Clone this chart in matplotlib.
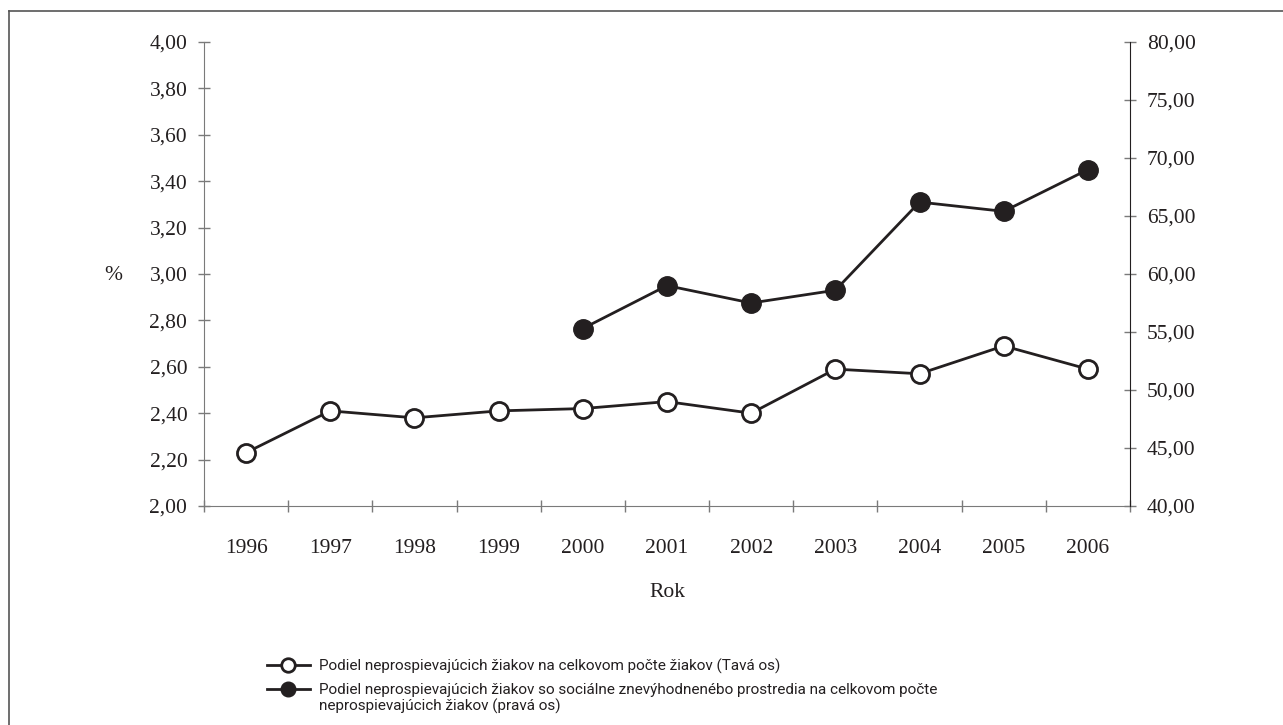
import numpy as np
import matplotlib
matplotlib.use("Agg")
import matplotlib.pyplot as plt
from matplotlib.ticker import FuncFormatter, FixedLocator
from matplotlib.lines import Line2D

# -- Data
years = ["1996", "1997", "1998", "1999", "2000", "2001",
         "2002", "2003", "2004", "2005", "2006"]
share_all = [2.23, 2.41, 2.38, 2.41, 2.42, 2.45, 2.40, 2.59, 2.57, 2.69, 2.59]
years_disadv = ["2000", "2001", "2002", "2003", "2004", "2005", "2006"]
share_disadv = [55.3, 59.0, 57.5, 58.6, 66.2, 65.4, 69.0]

label_all = "Podiel neprospievajúcich žiakov na celkovom počte žiakov (Tavá os)"
label_disadv = "Podiel neprospievajúcich žiakov so sociálne znevýhodnenébo prostredia na celkovom počte"
label_disadv_cont = "neprospievajúcich žiakov (pravá os)"

serif = ["Liberation Serif", "DejaVu Serif"]
sans = ["Roboto", "DejaVu Sans"]
ink = "#231f20"
grey = "#7a7a7a"


def comma(v, pos):
    return ("%.2f" % v).replace(".", ",")


fig = plt.figure(figsize=(12.83, 7.25), dpi=100)
ax = fig.add_axes([204 / 1283, 1 - 506 / 725, 926 / 1283, 464 / 725])
ax2 = ax.twinx()

x = np.arange(len(years))
x2 = np.array([years.index(y) for y in years_disadv])

l1, = ax.plot(x, share_all, color=ink, lw=2, marker="o", ms=13,
              mfc="white", mec=ink, mew=2, label=label_all, zorder=3)
l2, = ax2.plot(x2, share_disadv, color=ink, lw=2, marker="o", ms=14,
               mfc=ink, mec=ink, mew=1, label=label_disadv, zorder=3)

# -- axes
ax.set_xlim(-0.5, len(years) - 0.5)
ax.set_ylim(2.0, 4.0)
ax2.set_ylim(40, 80)
ax.set_yticks(np.arange(2.0, 4.01, 0.2))
ax2.set_yticks(np.arange(40, 80.1, 5))
ax.yaxis.set_major_formatter(FuncFormatter(comma))
ax2.yaxis.set_major_formatter(FuncFormatter(comma))

ax.set_xticks(x)
ax.set_xticklabels(years)
ax.xaxis.set_minor_locator(FixedLocator(np.arange(-0.5, len(years), 1.0)))
ax.tick_params(axis="x", which="major", length=0, pad=24)
ax.tick_params(axis="x", which="minor", direction="inout", length=8,
               color=grey, width=1)
ax.tick_params(axis="y", direction="inout", length=8, color=grey, width=1, pad=8)
ax2.tick_params(axis="y", direction="inout", length=8, color=grey, width=1, pad=8)

for a in (ax, ax2):
    a.spines["top"].set_visible(False)
    for lab in a.get_xticklabels() + a.get_yticklabels():
        lab.set_family(serif)
        lab.set_fontsize(15.5)
        lab.set_color(ink)
ax.spines["left"].set_color(grey)
ax.spines["bottom"].set_color(grey)
ax.spines["right"].set_visible(False)
ax2.spines["left"].set_visible(False)
ax2.spines["bottom"].set_visible(False)
ax2.spines["right"].set_color(ink)

ax.set_xlabel("Rok", family=serif, fontsize=15.5, color=ink, labelpad=18)
fig.text(113 / 1283, 1 - 275 / 725, "%", family=serif, fontsize=15.5,
         color=ink, ha="center", va="center")

# -- legend
leg = fig.legend(handles=[l1, l2], loc="upper left",
                 bbox_to_anchor=(253 / 1283, 1 - 645 / 725), frameon=False,
                 prop={"family": sans, "size": 11}, handlelength=2.8,
                 handletextpad=0.6, labelspacing=0.6, markerscale=0.75)
for t in leg.get_texts():
    t.set_color(ink)

# second line of the wrapped label, just under the legend text
fig.canvas.draw()
bb = leg.get_texts()[1].get_window_extent().transformed(fig.transFigure.inverted())
fig.text(bb.x0, bb.y0 - 1 / 725, label_disadv_cont, family=sans, fontsize=11,
         color=ink, ha="left", va="top")

# -- frame around the figure
fig.add_artist(Line2D([9 / 1283, 9 / 1283], [0, 1 - 11 / 725],
                      transform=fig.transFigure, color="#555555", lw=1.2))
fig.add_artist(Line2D([9 / 1283, 1], [1 - 11 / 725, 1 - 11 / 725],
                      transform=fig.transFigure, color="#555555", lw=1.2))

fig.savefig("out.png", dpi=100)
